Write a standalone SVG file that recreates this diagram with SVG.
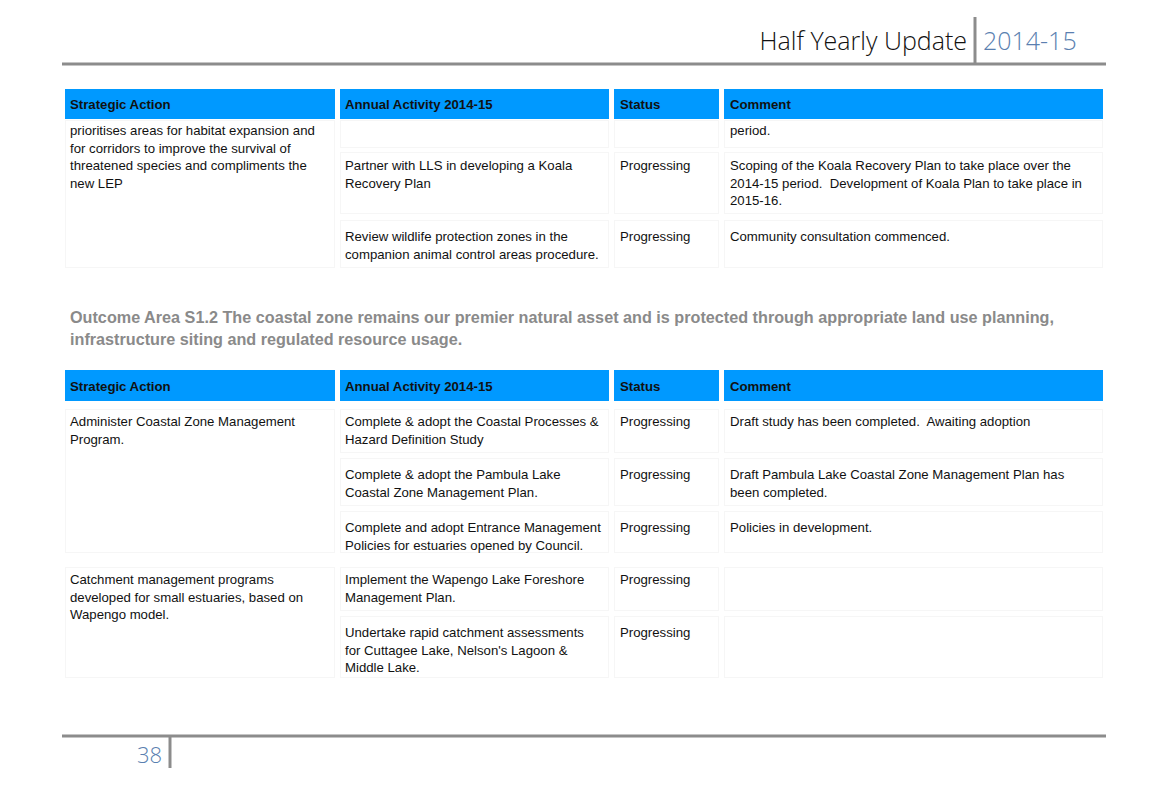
<svg xmlns="http://www.w3.org/2000/svg" width="1167" height="803" viewBox="0 0 1167 803">
<style>
text{white-space:pre}
.t{font-family:"Liberation Sans",Arial,sans-serif;font-size:13.2px;fill:#111}
.h{font-family:"Liberation Sans",Arial,sans-serif;font-size:13.2px;font-weight:bold;fill:#111}
.hb{fill:#0099ff}
.cell{fill:none;stroke:#f6f6f6;stroke-width:1}
.rule{stroke:#8c8c8c;stroke-width:3}
.o{font-family:"Liberation Sans",Arial,sans-serif;font-size:16.2px;font-weight:bold;fill:#8a8a8a}
.title{font-family:"Open Sans","Noto Sans",sans-serif;font-weight:300;font-size:25px}
</style>
<rect width="1167" height="803" fill="#fff"/>
<g id="page-header">
<line class="rule" x1="62" y1="64" x2="1106" y2="64"/>
<line class="rule" x1="975" y1="17" x2="975" y2="64"/>
<text class="title" x="967" y="50" text-anchor="end" fill="#111">Half Yearly Update</text>
<text class="title" x="983" y="50" fill="#5a7fb0">2014-15</text>
</g>
<g id="table1">
<g id="t1-header">
<rect class="hb" x="65" y="89" width="270" height="30"/>
<rect class="hb" x="340" y="89" width="269" height="30"/>
<rect class="hb" x="614" y="89" width="105" height="30"/>
<rect class="hb" x="724" y="89" width="379" height="30"/>
<text class="h" x="70" y="109">Strategic Action</text>
<text class="h" x="345" y="109">Annual Activity 2014-15</text>
<text class="h" x="620" y="109">Status</text>
<text class="h" x="730" y="109">Comment</text>
</g>
<g id="t1-cells">
<rect class="cell" x="65.5" y="120.5" width="269" height="147"/>
<rect class="cell" x="340.5" y="120.5" width="268" height="27"/>
<rect class="cell" x="614.5" y="120.5" width="104" height="27"/>
<rect class="cell" x="724.5" y="120.5" width="378" height="27"/>
<rect class="cell" x="340.5" y="152.5" width="268" height="61"/>
<rect class="cell" x="614.5" y="152.5" width="104" height="61"/>
<rect class="cell" x="724.5" y="152.5" width="378" height="61"/>
<rect class="cell" x="340.5" y="220.5" width="268" height="47"/>
<rect class="cell" x="614.5" y="220.5" width="104" height="47"/>
<rect class="cell" x="724.5" y="220.5" width="378" height="47"/>
</g>
<g id="t1-text">
<text class="t" x="70" y="135">prioritises areas for habitat expansion and</text>
<text class="t" x="70" y="152.5">for corridors to improve the survival of</text>
<text class="t" x="70" y="170">threatened species and compliments the</text>
<text class="t" x="70" y="187.5">new LEP</text>
<text class="t" x="730" y="135">period.</text>
<text class="t" x="345" y="170">Partner with LLS in developing a Koala</text>
<text class="t" x="345" y="187.5">Recovery Plan</text>
<text class="t" x="620" y="170">Progressing</text>
<text class="t" x="730" y="170">Scoping of the Koala Recovery Plan to take place over the</text>
<text class="t" x="730" y="187.5">2014-15 period.  Development of Koala Plan to take place in</text>
<text class="t" x="730" y="205">2015-16.</text>
<text class="t" x="345" y="241">Review wildlife protection zones in the</text>
<text class="t" x="345" y="258.5">companion animal control areas procedure.</text>
<text class="t" x="620" y="241">Progressing</text>
<text class="t" x="730" y="241">Community consultation commenced.</text>
</g>
</g>
<g id="outcome">
<text class="o" x="70" y="323" textLength="984" lengthAdjust="spacing">Outcome Area S1.2 The coastal zone remains our premier natural asset and is protected through appropriate land use planning,</text>
<text class="o" x="70" y="345">infrastructure siting and regulated resource usage.</text>
</g>
<g id="table2">
<g id="t2-header">
<rect class="hb" x="65" y="370" width="270" height="31"/>
<rect class="hb" x="340" y="370" width="269" height="31"/>
<rect class="hb" x="614" y="370" width="105" height="31"/>
<rect class="hb" x="724" y="370" width="379" height="31"/>
<text class="h" x="70" y="391">Strategic Action</text>
<text class="h" x="345" y="391">Annual Activity 2014-15</text>
<text class="h" x="620" y="391">Status</text>
<text class="h" x="730" y="391">Comment</text>
</g>
<g id="t2-cells">
<rect class="cell" x="65.5" y="409.5" width="269" height="143"/>
<rect class="cell" x="65.5" y="567.5" width="269" height="110"/>
<rect class="cell" x="340.5" y="409.5" width="268" height="43"/>
<rect class="cell" x="614.5" y="409.5" width="104" height="43"/>
<rect class="cell" x="724.5" y="409.5" width="378" height="43"/>
<rect class="cell" x="340.5" y="458.5" width="268" height="47"/>
<rect class="cell" x="614.5" y="458.5" width="104" height="47"/>
<rect class="cell" x="724.5" y="458.5" width="378" height="47"/>
<rect class="cell" x="340.5" y="511.5" width="268" height="41"/>
<rect class="cell" x="614.5" y="511.5" width="104" height="41"/>
<rect class="cell" x="724.5" y="511.5" width="378" height="41"/>
<rect class="cell" x="340.5" y="567.5" width="268" height="43"/>
<rect class="cell" x="614.5" y="567.5" width="104" height="43"/>
<rect class="cell" x="724.5" y="567.5" width="378" height="43"/>
<rect class="cell" x="340.5" y="616.5" width="268" height="61"/>
<rect class="cell" x="614.5" y="616.5" width="104" height="61"/>
<rect class="cell" x="724.5" y="616.5" width="378" height="61"/>
</g>
<g id="t2-text">
<text class="t" x="70" y="426">Administer Coastal Zone Management</text>
<text class="t" x="70" y="443.5">Program.</text>
<text class="t" x="345" y="426">Complete &amp; adopt the Coastal Processes &amp;</text>
<text class="t" x="345" y="443.5">Hazard Definition Study</text>
<text class="t" x="620" y="426">Progressing</text>
<text class="t" x="730" y="426">Draft study has been completed.  Awaiting adoption</text>
<text class="t" x="345" y="479">Complete &amp; adopt the Pambula Lake</text>
<text class="t" x="345" y="496.5">Coastal Zone Management Plan.</text>
<text class="t" x="620" y="479">Progressing</text>
<text class="t" x="730" y="479">Draft Pambula Lake Coastal Zone Management Plan has</text>
<text class="t" x="730" y="496.5">been completed.</text>
<text class="t" x="345" y="532">Complete and adopt Entrance Management</text>
<text class="t" x="345" y="549.5">Policies for estuaries opened by Council.</text>
<text class="t" x="620" y="532">Progressing</text>
<text class="t" x="730" y="532">Policies in development.</text>
<text class="t" x="70" y="584">Catchment management programs</text>
<text class="t" x="70" y="601.5">developed for small estuaries, based on</text>
<text class="t" x="70" y="619">Wapengo model.</text>
<text class="t" x="345" y="584">Implement the Wapengo Lake Foreshore</text>
<text class="t" x="345" y="601.5">Management Plan.</text>
<text class="t" x="620" y="584">Progressing</text>
<text class="t" x="345" y="637">Undertake rapid catchment assessments</text>
<text class="t" x="345" y="654.5">for Cuttagee Lake, Nelson's Lagoon &amp;</text>
<text class="t" x="345" y="672">Middle Lake.</text>
<text class="t" x="620" y="637">Progressing</text>
</g>
</g>
<g id="page-footer">
<line class="rule" x1="62" y1="736" x2="1106" y2="736"/>
<line class="rule" x1="170" y1="736" x2="170" y2="768"/>
<text x="162" y="763" text-anchor="end" font-family="'Open Sans','Noto Sans',sans-serif" font-weight="300" font-size="22" fill="#5a7fb0">38</text>
</g>
</svg>
